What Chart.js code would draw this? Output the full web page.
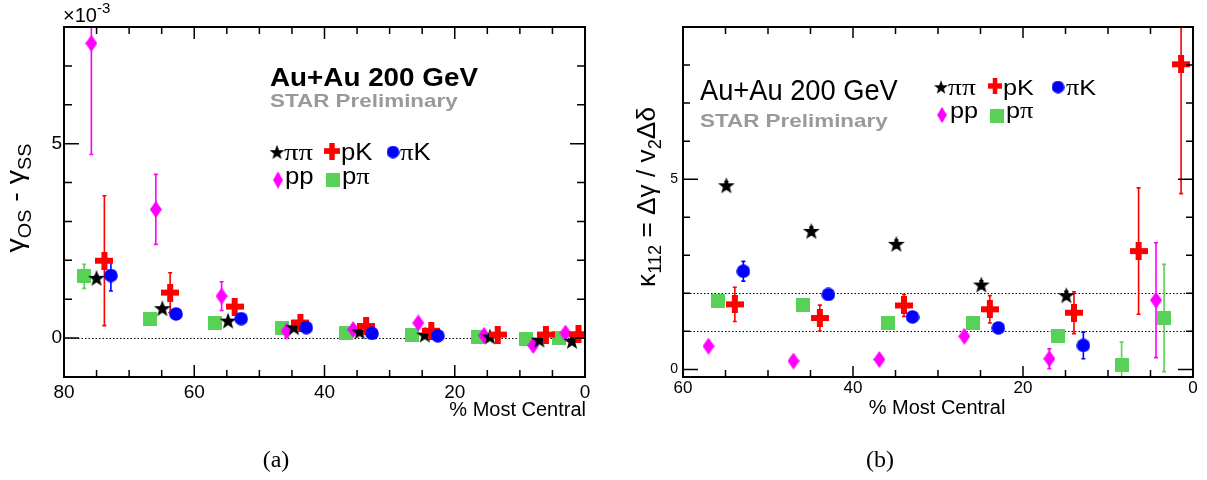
<!DOCTYPE html>
<html>
<head>
<meta charset="utf-8">
<script src="https://cdn.jsdelivr.net/npm/chart.js@4.4.1/dist/chart.umd.min.js"></script>
<style>
  html, body { margin: 0; padding: 0; background: #fff; }
  #wrap { position: relative; width: 1207px; height: 480px; overflow: hidden; }
  canvas { position: absolute; top: 0; }
  .cap { position: absolute; top: 446px; width: 60px; text-align: center; font: 24px "Liberation Serif", serif; color: #000; }
</style>
</head>
<body>
<div id="wrap">
  <canvas id="ca" width="600" height="480" style="left:0"></canvas>
  <canvas id="cb" width="607" height="480" style="left:600px"></canvas>
  <div class="cap" style="left:246px">(a)</div>
  <div class="cap" style="left:850px">(b)</div>
</div>
<script>
// ---- panel (a): gamma_OS - gamma_SS  (x 1e-3) vs % most central ----
const aPiPiX = [75.0, 64.9, 54.8, 44.7, 34.6, 24.6, 14.6, 7.0, 2.0];
const aPiPiY = [1.55, 0.77, 0.45, 0.28, 0.17, 0.09, 0.04, -0.04, -0.07];
const aPiPiE = [0.06, 0.05, 0.04, 0.04, 0.03, 0.03, 0.03, 0.03, 0.03];

const aPKX = [73.8, 63.7, 53.8, 43.7, 33.6, 23.6, 13.4, 6.0, 1.0];
const aPKY = [1.99, 1.17, 0.81, 0.40, 0.31, 0.19, 0.09, 0.09, 0.10];
const aPKE = [1.67, 0.51, 0.15, 0.12, 0.10, 0.10, 0.08, 0.08, 0.08];

const aPiKX = [72.8, 62.8, 52.8, 42.8, 32.7, 22.6];
const aPiKY = [1.61, 0.62, 0.50, 0.27, 0.12, 0.06];
const aPiKE = [0.40, 0.10, 0.08, 0.06, 0.05, 0.05];

const aPPX = [75.8, 65.9, 55.8, 45.8, 35.6, 25.6, 15.5, 7.95, 3.0];
const aPPY = [7.58, 3.31, 1.08, 0.18, 0.22, 0.39, 0.07, -0.19, 0.13];
const aPPE = [2.86, 0.90, 0.37, 0.15, 0.12, 0.10, 0.08, 0.08, 0.08];

const aPPiX = [76.9, 66.8, 56.8, 46.6, 36.7, 26.6, 16.5, 9.0, 4.05];
const aPPiY = [1.59, 0.50, 0.40, 0.26, 0.12, 0.09, 0.02, -0.02, 0.0];
const aPPiE = [0.31, 0.08, 0.06, 0.05, 0.04, 0.04, 0.03, 0.03, 0.03];

const aRefLines = [0];

// ---- panel (b): kappa_112 = dgamma / v2 ddelta vs % most central ----
const bPiPiX = [54.9, 44.9, 34.9, 24.9, 14.9];
const bPiPiY = [4.84, 3.64, 3.30, 2.23, 1.95];
const bPiPiE = [0.10, 0.10, 0.10, 0.10, 0.10];

const bPKX = [53.9, 43.9, 34.0, 23.9, 14.0, 6.4, 1.4];
const bPKY = [1.71, 1.35, 1.68, 1.58, 1.49, 3.11, 8.02];
const bPKE = [0.45, 0.34, 0.29, 0.36, 0.55, 1.66, 3.40];

const bPiKX = [52.9, 42.9, 33.0, 22.9, 12.9];
const bPiKY = [2.58, 1.97, 1.38, 1.09, 0.63];
const bPiKE = [0.26, 0.10, 0.10, 0.10, 0.35];

const bPPX = [57.0, 47.0, 36.9, 26.9, 16.9, 4.35];
const bPPY = [0.61, 0.22, 0.26, 0.87, 0.28, 1.82];
const bPPE = [0.10, 0.10, 0.10, 0.10, 0.26, 1.51];

const bPPiX = [55.9, 45.9, 35.9, 25.9, 15.9, 8.4, 3.4];
const bPPiY = [1.79, 1.68, 1.22, 1.23, 0.89, 0.12, 1.35];
const bPPiE = [0.10, 0.10, 0.10, 0.10, 0.06, 0.60, 1.41];

const bRefLines = [1, 2];

const SANS = '"Liberation Sans", Arial, sans-serif';
const SERIF = '"Liberation Serif", "Times New Roman", serif';
const RED = '#ff0000', BLUE = '#0000ff', MAG = '#ff00ff', GREEN = '#57d257', GRAY = '#9a9a9a';

// marker images (ROOT style filled markers)
function marker(w, h, fn) {
  const c = document.createElement('canvas');
  c.width = w; c.height = h;
  fn(c.getContext('2d'), w, h);
  return c;
}
function starPath(c, cx, cy, R, r) {
  c.beginPath();
  for (let k = 0; k < 10; k++) {
    const rr = k % 2 ? r : R, ang = -Math.PI / 2 + k * Math.PI / 5;
    c.lineTo(cx + rr * Math.cos(ang), cy + rr * Math.sin(ang));
  }
  c.closePath();
}
const mStar = marker(18, 18, (c, w, h) => { c.fillStyle = '#000'; starPath(c, w / 2, h / 2 + 0.8, 8.8, 3.6); c.fill(); });
const mStarS = marker(15, 15, (c, w, h) => { c.fillStyle = '#000'; starPath(c, w / 2, h / 2 + 0.7, 7.2, 2.9); c.fill(); });
const mCross = marker(18, 18, (c) => { c.fillStyle = RED; c.fillRect(0, 6, 18, 6); c.fillRect(6, 0, 6, 18); });
const mCircle = marker(14, 14, (c) => { c.fillStyle = BLUE; c.beginPath(); c.arc(7, 7, 6.8, 0, Math.PI * 2); c.fill(); });
const mDiamond = marker(12, 17, (c, w, h) => {
  c.fillStyle = MAG; c.beginPath();
  c.moveTo(w / 2, 0); c.lineTo(w, h / 2); c.lineTo(w / 2, h); c.lineTo(0, h / 2); c.closePath(); c.fill();
});
const mSquare = marker(14, 14, (c) => { c.fillStyle = GREEN; c.fillRect(0, 0, 14, 14); });

function series(label, xs, ys, es, img, color) {
  return {
    label, data: xs.map((x, i) => ({ x, y: ys[i] })), errs: es, errColor: color,
    pointStyle: img, pointRadius: 9, pointHoverRadius: 9, showLine: false
  };
}

function txt(ctx, s, x, y, font, color, align, sx) {
  ctx.save();
  ctx.translate(x, y); ctx.scale(sx || 1, 1);
  ctx.font = font; ctx.fillStyle = color || '#000';
  ctx.textAlign = align || 'left'; ctx.textBaseline = 'alphabetic';
  ctx.fillText(s, 0, 0);
  ctx.restore();
}
// parts: [text, size, serif?, dy]
function mixed(ctx, parts, x, y, sx) {
  ctx.save();
  ctx.translate(x, y); ctx.scale(sx || 1, 1);
  ctx.fillStyle = '#000'; ctx.textBaseline = 'alphabetic'; ctx.textAlign = 'left';
  let cx = 0;
  parts.forEach(([s, size, serif, dy]) => {
    ctx.font = size + 'px ' + (serif ? SERIF : SANS);
    ctx.fillText(s, cx, dy || 0);
    cx += ctx.measureText(s).width;
  });
  ctx.restore();
}
function partsWidth(ctx, parts) {
  let w = 0;
  parts.forEach(([s, size, serif]) => { ctx.font = size + 'px ' + (serif ? SERIF : SANS); w += ctx.measureText(s).width; });
  return w;
}
// rotated axis title, fitted to a given length along the axis
function vtitle(ctx, parts, baseX, midY, len) {
  const w = partsWidth(ctx, parts);
  ctx.save();
  ctx.translate(baseX, midY); ctx.rotate(-Math.PI / 2);
  mixed(ctx, parts, -len / 2, 0, len / w);
  ctx.restore();
}
function icon(ctx, img, cx, cy, w, h) {
  ctx.drawImage(img, cx - w / 2, cy - h / 2, w, h);
}

function framePlugin(o) {
  return {
    id: 'rootFrame',
    beforeDatasetsDraw(chart) {
      const { ctx, chartArea: a, scales: { x, y } } = chart;
      ctx.save();
      ctx.strokeStyle = '#000'; ctx.lineWidth = 1; ctx.setLineDash([1.5, 2]);
      o.refs.forEach(v => {
        const py = Math.round(y.getPixelForValue(v)) + 0.5;
        ctx.beginPath(); ctx.moveTo(a.left, py); ctx.lineTo(a.right, py); ctx.stroke();
      });
      ctx.setLineDash([]);
      ctx.beginPath(); ctx.rect(a.left, a.top, a.right - a.left, a.bottom - a.top); ctx.clip();
      ctx.lineWidth = 1.6;
      chart.data.datasets.forEach((ds, di) => {
        const meta = chart.getDatasetMeta(di);
        ctx.strokeStyle = ds.errColor;
        meta.data.forEach((pt, i) => {
          const e = ds.errs[i];
          if (!e) return;
          const v = ds.data[i].y;
          const y1 = y.getPixelForValue(v + e), y2 = y.getPixelForValue(v - e);
          ctx.beginPath();
          ctx.moveTo(pt.x, y1); ctx.lineTo(pt.x, y2);
          ctx.moveTo(pt.x - 2, y1); ctx.lineTo(pt.x + 2, y1);
          ctx.moveTo(pt.x - 2, y2); ctx.lineTo(pt.x + 2, y2);
          ctx.stroke();
        });
      });
      ctx.restore();
    },
    afterDatasetsDraw(chart) {
      const { ctx, chartArea: a, scales: { x, y } } = chart;
      ctx.save();
      ctx.strokeStyle = '#000'; ctx.lineWidth = 1.5;
      ctx.beginPath();
      x.ticks.forEach(t => {
        const px = x.getPixelForValue(t.value);
        const L = Math.abs(t.value % o.xMajor) < 1e-9 ? o.xL : o.xl;
        ctx.moveTo(px, a.bottom); ctx.lineTo(px, a.bottom - L);
        ctx.moveTo(px, a.top); ctx.lineTo(px, a.top + L);
      });
      y.ticks.forEach(t => {
        const py = y.getPixelForValue(t.value);
        const L = Math.abs(t.value % o.yMajor) < 1e-9 ? o.yL : o.yl;
        ctx.moveTo(a.left, py); ctx.lineTo(a.left + L, py);
        ctx.moveTo(a.right, py); ctx.lineTo(a.right - L, py);
      });
      ctx.stroke();
      ctx.lineWidth = 2;
      ctx.strokeRect(a.left, a.top, a.right - a.left, a.bottom - a.top);
      ctx.restore();
    },
    afterDraw(chart) { o.decorate(chart.ctx, chart); }
  };
}

function makeChart(id, datasets, cfg) {
  return new Chart(document.getElementById(id), {
    type: 'scatter',
    data: { datasets },
    options: {
      responsive: false, animation: false, events: [],
      layout: { padding: { top: 27, right: cfg.padR, left: 0, bottom: 0 } },
      plugins: { legend: { display: false }, tooltip: { enabled: false } },
      scales: {
        x: {
          type: 'linear', reverse: true, min: 0, max: cfg.xMax,
          grid: { display: false, drawTicks: false }, border: { display: false },
          ticks: {
            stepSize: 5, autoSkip: false, maxRotation: 0, padding: cfg.xPad, color: '#000',
            font: { family: SANS, size: cfg.xFont },
            callback: v => (Math.abs(v % 20) < 1e-9 ? String(v) : '')
          },
          afterFit: s => { s.height = 103; }
        },
        y: {
          type: 'linear', min: cfg.yMin, max: cfg.yMax,
          grid: { display: false, drawTicks: false }, border: { display: false },
          ticks: {
            stepSize: 1, includeBounds: false, autoSkip: false, padding: cfg.yPad, color: '#000',
            font: { family: SANS, size: cfg.yFont },
            callback: v => (Math.abs(v % 5) < 1e-9 ? String(v) : '')
          },
          afterFit: s => { s.width = cfg.yW; }
        }
      }
    },
    plugins: [framePlugin(cfg)]
  });
}

// ---- chart (a) ----
makeChart('ca', [
  series('πK', aPiKX, aPiKY, aPiKE, mCircle, BLUE),
  series('pK', aPKX, aPKY, aPKE, mCross, RED),
  series('ππ', aPiPiX, aPiPiY, aPiPiE, mStar, '#000'),
  series('pp', aPPX, aPPY, aPPE, mDiamond, MAG),
  series('pπ', aPPiX, aPPiY, aPPiE, mSquare, GREEN)
], {
  xMax: 80, yMin: -1, yMax: 8, padR: 15, yW: 64, xPad: 4, yPad: 2, xFont: 19, yFont: 19,
  xMajor: 20, yMajor: 5, xL: 12, xl: 7, yL: 15, yl: 8, refs: aRefLines,
  decorate(ctx) {
    mixed(ctx, [['×10', 20, false, 0], ['-3', 15, false, -9]], 63, 22, 1);
    txt(ctx, 'Au+Au 200 GeV', 270, 86, 'bold 26px ' + SANS, '#000', 'left', 1.07);
    txt(ctx, 'STAR Preliminary', 270, 107, 'bold 19px ' + SANS, GRAY, 'left', 1.18);
    icon(ctx, mStar, 277, 152, 16, 16);
    mixed(ctx, [['ππ', 24, true]], 284, 160, 1.2);
    icon(ctx, mCross, 332, 151, 16, 17);
    mixed(ctx, [['pK', 23, false]], 341, 160, 1.12);
    icon(ctx, mCircle, 393, 152, 13, 13);
    mixed(ctx, [['π', 24, true], ['K', 23, false]], 400, 160, 1.12);
    icon(ctx, mDiamond, 278, 180, 10, 17);
    mixed(ctx, [['pp', 23, false]], 285, 184, 1.12);
    icon(ctx, mSquare, 333, 180, 14, 14);
    mixed(ctx, [['p', 23, false], ['π', 24, true]], 342, 184, 1.12);
    txt(ctx, '% Most Central', 586, 416, '20px ' + SANS, '#000', 'right', 1);
    vtitle(ctx, [['γ', 26, false, 0], ['OS', 18, false, 7], [' - γ', 26, false, 0], ['SS', 18, false, 7]], 24, 198, 109);
  }
});

// ---- chart (b) ----
makeChart('cb', [
  series('πK', bPiKX, bPiKY, bPiKE, mCircle, BLUE),
  series('pK', bPKX, bPKY, bPKE, mCross, RED),
  series('ππ', bPiPiX, bPiPiY, bPiPiE, mStar, '#000'),
  series('pp', bPPX, bPPY, bPPE, mDiamond, MAG),
  series('pπ', bPPiX, bPPiY, bPPiE, mSquare, GREEN)
], {
  xMax: 60, yMin: -0.2, yMax: 9, padR: 14, yW: 83, xPad: 1, yPad: 5, xFont: 17, yFont: 14,
  xMajor: 20, yMajor: 5, xL: 11, xl: 7, yL: 15, yl: 7, refs: bRefLines,
  decorate(ctx) {
    txt(ctx, 'Au+Au 200 GeV', 100, 100, '29px ' + SANS, '#000', 'left', 0.94);
    txt(ctx, 'STAR Preliminary', 100, 127, 'bold 19px ' + SANS, GRAY, 'left', 1.18);
    icon(ctx, mStar, 341, 87, 15, 15);
    mixed(ctx, [['ππ', 23, true]], 348, 95, 1.2);
    icon(ctx, mCross, 395, 86, 14, 16);
    mixed(ctx, [['pK', 22, false]], 403, 95, 1.15);
    icon(ctx, mCircle, 458, 87, 13, 13);
    mixed(ctx, [['π', 23, true], ['K', 22, false]], 466, 95, 1.15);
    icon(ctx, mDiamond, 342, 115, 10, 16);
    mixed(ctx, [['pp', 22, false]], 350, 118, 1.15);
    icon(ctx, mSquare, 397, 116, 14, 14);
    mixed(ctx, [['p', 22, false], ['π', 23, true]], 406, 118, 1.15);
    txt(ctx, '% Most Central', 337, 414, '20px ' + SANS, '#000', 'center', 1);
    vtitle(ctx, [['κ', 26, false, 0], ['112', 18, false, 6], [' = Δγ / v', 26, false, 0], ['2', 18, false, 6], ['Δδ', 26, false, 0]], 55, 197, 180);
  }
});
</script>
</body>
</html>
